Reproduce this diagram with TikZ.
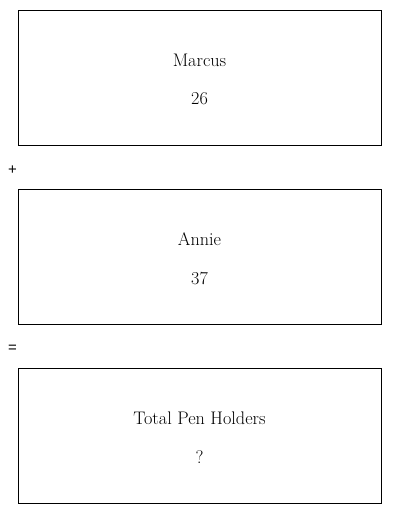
\documentclass[tikz,border=0pt]{standalone}
\usepackage{fontspec}
\newfontfamily\opfont{Liberation Sans}
\usepackage{tikz}
\usetikzlibrary{positioning}

\tikzset{
  partbox/.style={draw, line width=0.9pt, minimum width=363pt, minimum height=135pt, inner sep=0pt},
  partlabel/.style={font=\fontsize{18.2}{21}\selectfont},
  opsign/.style={font=\opfont\fontsize{15}{17}\selectfont}
}

\begin{document}
\begin{tikzpicture}[x=1pt,y=-1pt]
  \useasboundingbox (0,0) rectangle (400,514);

  % three quantity boxes
  \node[partbox] (marcus) at (199.5,77.5) {};
  \node[partbox] (annie)  at (199.5,256.5) {};
  \node[partbox] (total)  at (199.5,435.5) {};

  \node[partlabel] (marcusname) at (199.5,60)  {Marcus};
  \node[partlabel] (marcusval)  at (199.5,99)  {26};
  \node[partlabel] (anniename)  at (199.5,239) {Annie};
  \node[partlabel] (annieval)   at (199.5,278) {37};
  \node[partlabel] (totalname)  at (199.5,418) {Total Pen Holders};
  \node[partlabel] (totalval)   at (199.5,457) {?};

  % operators between boxes
  \node[opsign] (plus)   at (12.5,170) {+};
  \node[opsign] (equals) at (12.5,349) {=};
\end{tikzpicture}
\end{document}
